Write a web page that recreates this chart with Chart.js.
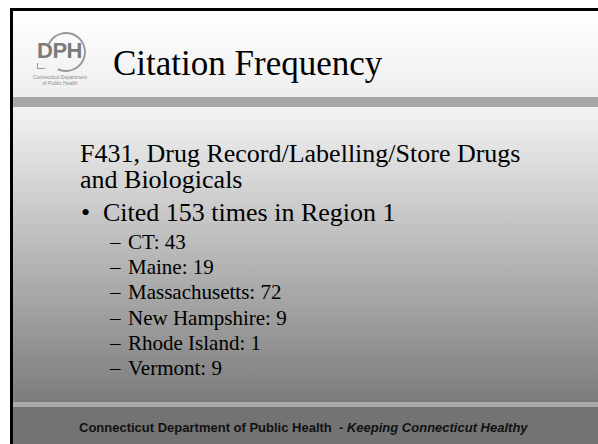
<!DOCTYPE html>
<html>
<head>
<meta charset="utf-8">
<script src="https://cdn.jsdelivr.net/npm/chart.js@4.4.1/dist/chart.umd.min.js"></script>
<style>
  html, body { margin: 0; padding: 0; background: #fff; }
  body { width: 598px; height: 444px; position: relative; overflow: hidden; }
  .abs { position: absolute; white-space: nowrap; }
  #frame { left: 10px; top: 8px; width: 600px; height: 440px; background: #000; }
  #header { left: 13px; top: 11px; width: 600px; height: 86px;
    background: linear-gradient(#ffffff, #eeeeee); }
  #barTop { left: 13px; top: 97px; width: 600px; height: 10px; background: #a7a7a7; }
  #body { left: 13px; top: 107px; width: 600px; height: 295px;
    background: linear-gradient(#f3f3f3, #7c7c7c); }
  #barBot { left: 13px; top: 402px; width: 600px; height: 5px; background: #a9a9a9; }
  #footer { left: 13px; top: 407px; width: 600px; height: 40px; background: #737373; }
  .serif { font-family: "Liberation Serif", "Times New Roman", serif; color: #000; line-height: 1; }
  #title { left: 113px; top: 46px; font-size: 35px; }
  .lvl1 { font-size: 26px; line-height: 26px; }
  .lvl2 { font-size: 21px; }
  #foot { left: 79px; top: 421px; font: bold 13px/1 "Liberation Sans", Arial, sans-serif; color: #111; }
  #logoText { left: 37px; top: 40px; font: bold 22px/1 "Liberation Sans", Arial, sans-serif; color: #7b7b7b; letter-spacing: -0.5px; }
  #arc { left: 46px; top: 32px; width: 36px; height: 36px; border-radius: 50%;
    border: 2px solid #9a9a9a; border-left-color: transparent; transform: rotate(-20deg); }
  #bubble { left: 37px; top: 63px; width: 7px; height: 5px; border: 1.5px solid #9a9a9a; border-top: none; border-right: none; }
  #logoSmall { left: 28px; top: 75px; width: 64px; text-align: center; font: 5px/1.15 "Liberation Sans", Arial, sans-serif; color: #8a8a8a; }
  #chartBox { left: 110px; top: 232px; width: 200px; height: 150px; }
</style>
</head>
<body>
<div id="frame" class="abs"></div>
<div id="header" class="abs"></div>
<div id="barTop" class="abs"></div>
<div id="body" class="abs"></div>
<div id="barBot" class="abs"></div>
<div id="footer" class="abs"></div>

<div id="arc" class="abs"></div>
<div id="logoText" class="abs">DPH</div>
<div id="bubble" class="abs"></div>
<div id="logoSmall" class="abs">Connecticut Department<br>of Public Health</div>

<div id="title" class="abs serif">Citation Frequency</div>
<div id="slideText"></div>
<div id="chartBox" class="abs"><canvas id="grafico"></canvas></div>

<div id="foot" class="abs">Connecticut Department of Public Health&nbsp; - <i>Keeping Connecticut Healthy</i></div>

<script>
// Datos de la diapositiva
const estados = ['CT', 'Maine', 'Massachusetts', 'New Hampshire', 'Rhode Island', 'Vermont'];
const citas = [43, 19, 72, 9, 1, 9];
const encabezado = ['F431, Drug Record/Labelling/Store Drugs', 'and Biologicals'];
const region = 'Region 1';

const total = citas.reduce((a, b) => a + b, 0);
const slideText = document.getElementById('slideText');

function addLine(text, cls, left, top) {
    const div = document.createElement('div');
    div.className = 'abs serif ' + cls;
    div.style.left = left + 'px';
    div.style.top = top + 'px';
    div.innerHTML = text;
    slideText.appendChild(div);
}

// Encabezado (dos líneas en un solo bloque) y viñeta
addLine(encabezado.join('<br>'), 'lvl1', 80, 141.2);
addLine('•', 'lvl1', 81, 200.2);
addLine('Cited ' + total + ' times in ' + region, 'lvl1', 103, 200.2);

// Sub-lista por estado
estados.forEach((estado, i) => {
    const top = 232 + i * 25.2;
    addLine('–', 'lvl2', 110, top);
    addLine(estado + ': ' + citas[i], 'lvl2', 128, top);
});

// Gráfico (sin marcas visibles, la diapositiva solo muestra texto)
new Chart(document.getElementById('grafico'), {
    type: 'bar',
    data: {
        labels: estados,
        datasets: [{
            data: citas,
            backgroundColor: 'rgba(0,0,0,0)',
            borderWidth: 0,
        }]
    },
    options: {
        indexAxis: 'y',
        responsive: true,
        maintainAspectRatio: false,
        animation: false,
        events: [],
        plugins: { legend: { display: false }, tooltip: { enabled: false } },
        scales: { x: { display: false }, y: { display: false } },
    },
});
</script>
</body>
</html>
